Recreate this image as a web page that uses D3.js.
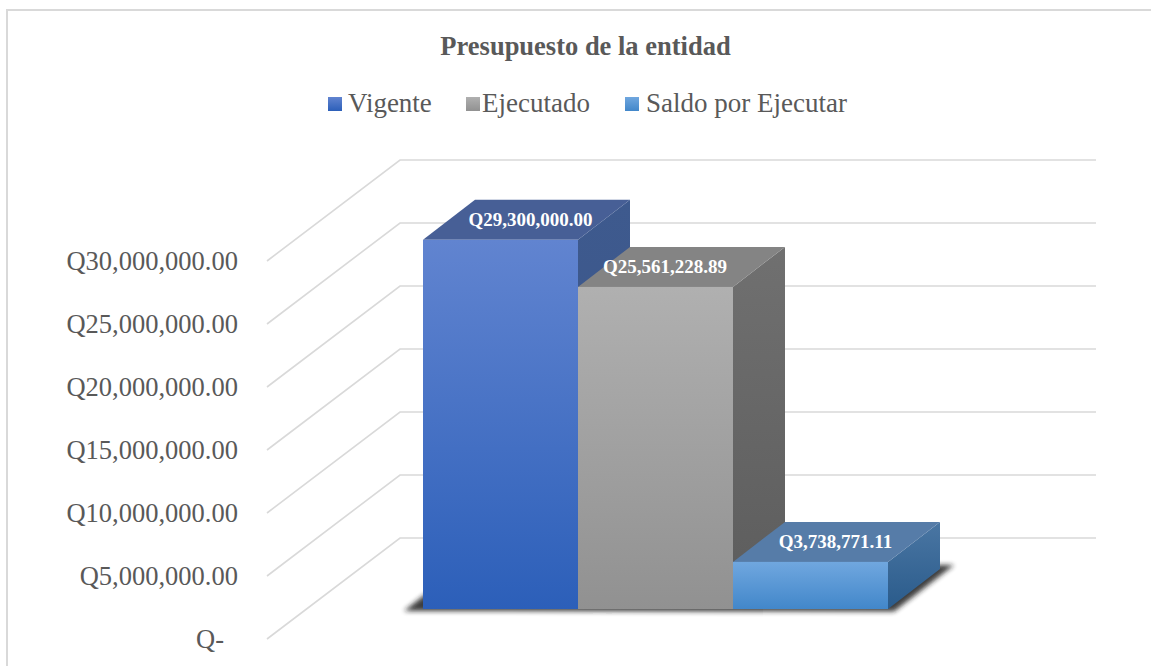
<!DOCTYPE html>
<html><head><meta charset="utf-8">
<script src="https://cdn.jsdelivr.net/npm/d3@7"></script>
<style>html,body{margin:0;background:#fff}svg{display:block}text{font-family:"Liberation Serif",serif}</style>
</head><body><svg id="c" width="1151" height="666"></svg>
<script>
const categories = ["Vigente","Ejecutado","Saldo por Ejecutar"];
const values = [29300000,25561228.89,3738771.11];
const valueLabels = ["Q29,300,000.00","Q25,561,228.89","Q3,738,771.11"];
const tickValues = [0,5000000,10000000,15000000,20000000,25000000,30000000];
const tickLabels = ["Q-","Q5,000,000.00","Q10,000,000.00","Q15,000,000.00","Q20,000,000.00","Q25,000,000.00","Q30,000,000.00"];
const title = "Presupuesto de la entidad";

const palette = [
 {front:["#6184d0","#2c5fb9"],top:"#475f96",side:["#3e5a8e","#3a5488"]},
 {front:["#b0b0b0","#919191"],top:"#848484",side:["#707070","#5c5c5c"]},
 {front:["#70a7df","#4287ca"],top:"#567ca8",side:["#4a76a3","#2a5b8b"]}
];
const legendX=[328,466,625], legendTextX=[348,482,646], labelDx=[4,-16.5,-1];
const depth={dx:52,dy:40};

const svg=d3.select("#c");
const defs=svg.append("defs");
const blur=defs.append("filter").attr("id","blur").attr("x","-10%").attr("y","-50%").attr("width","120%").attr("height","200%");
blur.append("feGaussianBlur").attr("stdDeviation",2.5);
function grad(id,c){const g=defs.append("linearGradient").attr("id",id).attr("x1",0).attr("x2",0).attr("y1",0).attr("y2",1);
 g.append("stop").attr("offset",0).attr("stop-color",c[0]);g.append("stop").attr("offset",1).attr("stop-color",c[1]);}
palette.forEach((p,i)=>{grad("f"+i,p.front);grad("s"+i,p.side);});

// frame: left and top edges only are visible in the crop
svg.append("path").attr("d","M7 666V10H1151").attr("fill","none").attr("stroke","#d9d9d9").attr("stroke-width",2);

// title and legend
svg.append("text").attr("x",585.5).attr("y",55).attr("text-anchor","middle").attr("font-size",26.5).attr("font-weight","bold").attr("fill","#595959").text(title);
categories.forEach((c,i)=>{
 svg.append("rect").attr("x",legendX[i]).attr("y",97).attr("width",14).attr("height",14).attr("fill",`url(#f${i})`);
 svg.append("text").attr("x",legendTextX[i]).attr("y",112).attr("font-size",27).attr("fill","#595959").text(c);
});

// scales
const height=d3.scaleLinear().domain([0,30000000]).range([0,378]);
const axisScale=d3.scaleLinear().domain([0,30000000]).range([639,261]);
const x=d3.scaleBand().domain(categories).range([423,888]);
const baseY=609;

// gridlines on walls
svg.append("g").selectAll("path").data(tickValues).join("path")
 .attr("d",d=>{const h=height(d);return `M267 ${639-h}L400 ${538-h}H1096`;})
 .attr("fill","none").attr("stroke","#d9d9d9").attr("stroke-width",1.6);

// axis labels
const axis=d3.axisLeft(axisScale).tickValues(tickValues).tickSize(0).tickPadding(0).tickFormat((d,i)=>tickLabels[i]);
const ax=svg.append("g").attr("transform","translate(238,0)").call(axis);
ax.select(".domain").remove();
ax.selectAll("text").attr("font-size",26.5).attr("font-family","Liberation Serif").attr("fill","#595959").attr("dx",(d,i)=>i===0?-14:0);

// floor shadow
const bw=x.bandwidth();
svg.append("path").attr("d",()=>{const l=x(categories[0]),r=x(categories[2])+bw;
 return `M${l-19} ${baseY+2}L${l+4} ${baseY-16}L${r+depth.dx} ${baseY-depth.dy-4}H${r+depth.dx+14}L${r+6} ${baseY+2.5}Z`;})
 .attr("fill","#1c1c1c").attr("opacity",.85).attr("filter","url(#blur)");

// bars
const g=svg.append("g");
categories.forEach((c,i)=>{
 const l=x(c),r=l+bw,h=height(values[i]),t=baseY-h,{dx,dy}=depth;
 g.append("path").attr("d",`M${r} ${t}L${r+dx} ${t-dy}V${baseY-dy}L${r} ${baseY}Z`).attr("fill",`url(#s${i})`);
 g.append("path").attr("d",`M${l} ${t}L${l+dx} ${t-dy}H${r+dx}L${r} ${t}Z`).attr("fill",palette[i].top);
 g.append("rect").attr("x",l).attr("y",t).attr("width",bw).attr("height",h).attr("fill",`url(#f${i})`);
});
categories.forEach((c,i)=>{
 const t=baseY-height(values[i]);
 svg.append("text").attr("x",x(c)+bw/2+depth.dx/2+labelDx[i]).attr("y",t-depth.dy/2+6)
  .attr("text-anchor","middle").attr("font-size",19).attr("font-weight","bold").attr("fill","#fff").text(valueLabels[i]);
});
</script></body></html>
